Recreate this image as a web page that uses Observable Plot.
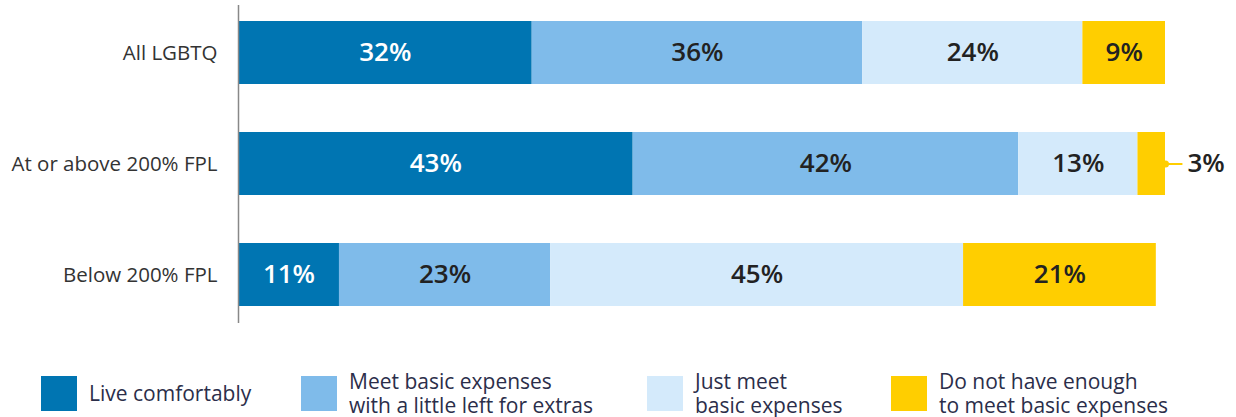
<!DOCTYPE html>
<html>
<head>
<meta charset="utf-8">
<script src="https://cdn.jsdelivr.net/npm/d3@7"></script>
<script src="https://cdn.jsdelivr.net/npm/@observablehq/plot@0.6"></script>
<style>
  html, body { margin: 0; padding: 0; background: #fff; }
  body { font-family: "Open Sans", sans-serif; width: 1236px; height: 417px; position: relative; overflow: hidden; }
  #chart { position: absolute; left: 0; top: 0; }
  .legend-item { position: absolute; top: 369px; height: 48px; display: flex; align-items: center; }
  .legend-item .sw { width: 36px; height: 35px; flex: none; }
  .legend-item .lbl { font-size: 21px; line-height: 24px; color: #2b2e4a; margin-left: 12px; white-space: nowrap; }
  .legend-item .lbl div { height: 24px; }
</style>
</head>
<body>
<div id="chart"></div>
<div id="legend"></div>
<script>
const categories = ["All LGBTQ", "At or above 200% FPL", "Below 200% FPL"];
const series = [
  "Live comfortably",
  "Meet basic expenses with a little left for extras",
  "Just meet basic expenses",
  "Do not have enough to meet basic expenses"
];
const legendLines = [
  ["Live comfortably"],
  ["Meet basic expenses", "with a little left for extras"],
  ["Just meet", "basic expenses"],
  ["Do not have enough", "to meet basic expenses"]
];
const liveComfortably = [32, 43, 11];
const meetWithExtras = [36, 42, 23];
const justMeet = [24, 13, 45];
const notEnough = [9, 3, 21];
const colors = ["#0075b2", "#7fbbea", "#d4eafb", "#ffce00"];
const labelColors = ["#ffffff", "#222222", "#222222", "#222222"];
const legendLeft = [41, 301, 647, 891];

const seriesValues = [liveComfortably, meetWithExtras, justMeet, notEnough];
const rows = [];
categories.forEach((c, i) => {
  seriesValues.forEach((vals, s) => {
    rows.push({category: c, series: series[s], sIdx: s, value: vals[i]});
  });
});
const rowTotal = c => d3.sum(rows.filter(r => r.category === c), r => r.value);
const inside = rows.filter(r => r.value >= 5);
const outside = rows.filter(r => r.value < 5).map(r => ({...r, end: rowTotal(r.category)}));

const plot = Plot.plot({
  width: 1236,
  height: 330,
  marginLeft: 238,
  marginRight: 71,
  marginTop: 5,
  marginBottom: 7,
  style: {fontFamily: "Open Sans, sans-serif", background: "transparent"},
  x: {domain: [0, 101], axis: null},
  y: {domain: categories, paddingInner: 0.43, paddingOuter: 0.135, label: null},
  color: {domain: series, range: colors},
  marks: [
    Plot.barX(rows, Plot.stackX({x: "value", y: "category", fill: "series", order: series})),
    Plot.text(inside, Plot.stackX({
      x: "value", y: "category", order: series,
      text: d => d.value + "%",
      fill: d => labelColors[d.sIdx],
      fontSize: 26, fontWeight: 600
    })),
    Plot.ruleY(outside, {y: "category", x1: "end", x2: d => d.end + 1.9, stroke: colors[3], strokeWidth: 2}),
    Plot.dot(outside, {y: "category", x: "end", r: 3.5, fill: colors[3], stroke: "none"}),
    Plot.text(outside, {
      y: "category", x: "end", dx: 22, textAnchor: "start",
      text: d => d.value + "%", fill: "#222222", fontSize: 26, fontWeight: 600
    }),
    Plot.ruleX([0], {stroke: "#888", strokeWidth: 1.5}),
    Plot.axisY({tickSize: 0, tickPadding: 21, fontSize: 20.5, color: "#333", label: null})
  ]
});
plot.querySelectorAll("[aria-label='y-axis tick label'] text").forEach(t => t.setAttribute("fill", "#333"));
document.getElementById("chart").appendChild(plot);

const legend = document.getElementById("legend");
series.forEach((s, i) => {
  const item = document.createElement("div");
  item.className = "legend-item";
  item.style.left = legendLeft[i] + "px";
  const sw = document.createElement("div");
  sw.className = "sw";
  sw.style.background = colors[i];
  const lbl = document.createElement("div");
  lbl.className = "lbl";
  legendLines[i].forEach(line => {
    const l = document.createElement("div");
    l.textContent = line;
    lbl.appendChild(l);
  });
  item.appendChild(sw);
  item.appendChild(lbl);
  legend.appendChild(item);
});
</script>
</body>
</html>
